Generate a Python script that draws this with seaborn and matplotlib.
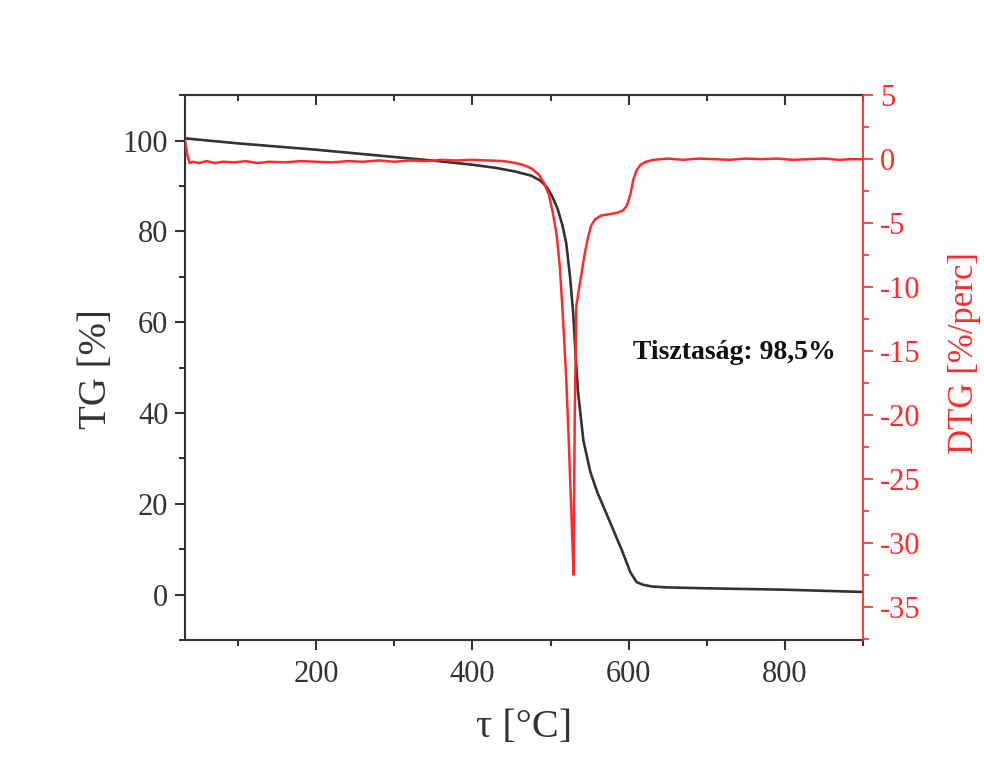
import matplotlib
matplotlib.use("Agg")
import matplotlib.pyplot as plt
from matplotlib.ticker import MultipleLocator
import seaborn as sns
import pandas as pd

# Thermogravimetric curve: temperature [°C] vs. remaining mass [%]
tg_temp = [32, 100, 200, 300, 350, 400, 430, 455, 475, 487, 495, 502, 509, 515,
           520, 525, 529, 532, 535, 542, 551, 560, 570, 581, 592, 602, 610, 618,
           630, 650, 700, 800, 900]
tg_mass = [100.5, 99.4, 98.0, 96.4, 95.6, 94.7, 94.0, 93.2, 92.3, 91.2, 89.8,
           87.8, 85.0, 81.5, 77.5, 70.0, 62.0, 53.0, 45.0, 34.0, 27.0, 22.5,
           18.5, 14.0, 9.5, 5.0, 2.8, 2.2, 1.8, 1.6, 1.4, 1.1, 0.6]

# Derivative curve: temperature [°C] vs. mass-loss rate [%/perc]
dtg_temp = [32, 35, 38, 42, 50, 60, 70, 80, 95, 110, 125, 140, 160, 180, 200,
            220, 240, 260, 280, 300, 320, 340, 360, 380, 400, 420, 440, 455,
            465, 475, 485, 492, 498, 503, 508, 512, 516, 520, 523, 526, 528,
            529.5, 531, 533, 536, 540, 544, 548, 552, 557, 565, 575, 585, 593,
            598, 602, 606, 610, 615, 622, 632, 650, 670, 690, 710, 730, 750,
            770, 790, 810, 830, 850, 870, 885, 900]
dtg_rate = [1.5, 0.3, -0.3, -0.2, -0.3, -0.15, -0.3, -0.2, -0.25, -0.15, -0.3,
            -0.2, -0.25, -0.15, -0.2, -0.25, -0.15, -0.2, -0.1, -0.2, -0.1,
            -0.15, -0.05, -0.1, -0.05, -0.1, -0.15, -0.3, -0.45, -0.7, -1.2,
            -1.9, -2.8, -4.2, -6.0, -8.5, -12.5, -17.0, -21.5, -26.5, -30.0,
            -32.5, -20.0, -11.5, -10.3, -8.8, -7.3, -6.1, -5.2, -4.7, -4.4,
            -4.3, -4.2, -4.0, -3.6, -2.8, -1.6, -0.9, -0.45, -0.2, -0.05, 0.05,
            -0.05, 0.05, 0.0, -0.05, 0.05, 0.0, 0.05, -0.05, 0.0, 0.05, -0.05,
            0.0, 0.0]

purity_text = "Tisztaság: 98,5%"

sns.set_theme(style="ticks")
plt.rcParams["font.family"] = ["Liberation Serif", "DejaVu Serif"]
plt.rcParams["axes.unicode_minus"] = False

RED = "#ff2b2b"
DARK = "#333333"

tg_df = pd.DataFrame({"temp": tg_temp, "mass": tg_mass})
dtg_df = pd.DataFrame({"temp": dtg_temp, "rate": dtg_rate})

fig = plt.figure(figsize=(9.84, 7.62), dpi=100)
ax = fig.add_axes([0.188, 0.160, 0.689, 0.715])
ax2 = ax.twinx()

sns.lineplot(data=tg_df, x="temp", y="mass", ax=ax, color=DARK, lw=1.9,
             sort=False, estimator=None)
sns.lineplot(data=dtg_df, x="temp", y="rate", ax=ax2, color=RED, lw=1.8,
             sort=False, estimator=None)

ax.set_xlim(32, 900)
ax.set_ylim(-10, 110)
ax2.set_ylim(-37.6, 5)

ax.xaxis.set_major_locator(MultipleLocator(200))
ax.xaxis.set_minor_locator(MultipleLocator(100))
ax.yaxis.set_major_locator(MultipleLocator(20))
ax.yaxis.set_minor_locator(MultipleLocator(10))
ax2.yaxis.set_major_locator(MultipleLocator(5))
ax2.yaxis.set_minor_locator(MultipleLocator(2.5))

for sp in ["left", "bottom", "top"]:
    ax.spines[sp].set_color(DARK)
    ax.spines[sp].set_linewidth(1.5)
ax.spines["right"].set_visible(False)
for sp in ["left", "bottom", "top"]:
    ax2.spines[sp].set_visible(False)
ax2.spines["right"].set_color(RED)
ax2.spines["right"].set_linewidth(1.3)

ax.tick_params(axis="x", which="both", direction="out", top=False,
               colors=DARK, labelsize=22, width=1.5, pad=7)
ax.tick_params(axis="x", which="major", length=7)
ax.tick_params(axis="x", which="minor", length=4)
ax.tick_params(axis="y", which="both", direction="out", colors=DARK,
               labelsize=22, width=1.5, pad=5)
ax.tick_params(axis="y", which="major", length=7)
ax.tick_params(axis="y", which="minor", length=4)

# inward ticks mirrored along the top edge
top = ax.secondary_xaxis("top")
top.xaxis.set_major_locator(MultipleLocator(200))
top.xaxis.set_minor_locator(MultipleLocator(100))
top.tick_params(which="both", direction="in", labeltop=False, colors=DARK,
                width=1.5)
top.tick_params(which="major", length=7)
top.tick_params(which="minor", length=4)
top.spines["top"].set_color(DARK)
top.spines["top"].set_linewidth(1.5)

ax2.tick_params(axis="y", which="both", direction="out", colors=RED,
                labelsize=22, width=1.2, pad=5)
ax2.tick_params(axis="y", which="major", length=7)
ax2.tick_params(axis="y", which="minor", length=4)

ax.set_xlabel("τ [°C]", fontsize=29, color=DARK, labelpad=15)
ax.set_ylabel("TG [%]", fontsize=28, color=DARK)
ax.yaxis.set_label_coords(-0.103, 0.498)
ax2.set_ylabel("DTG [%/perc]", fontsize=25, color=RED)
ax2.yaxis.set_label_coords(1.125, 0.527)

ax.text(606, 53.4, purity_text, fontsize=20, fontweight="bold",
        color="#111111", va="center", ha="left")

fig.savefig("out.png", dpi=100)
